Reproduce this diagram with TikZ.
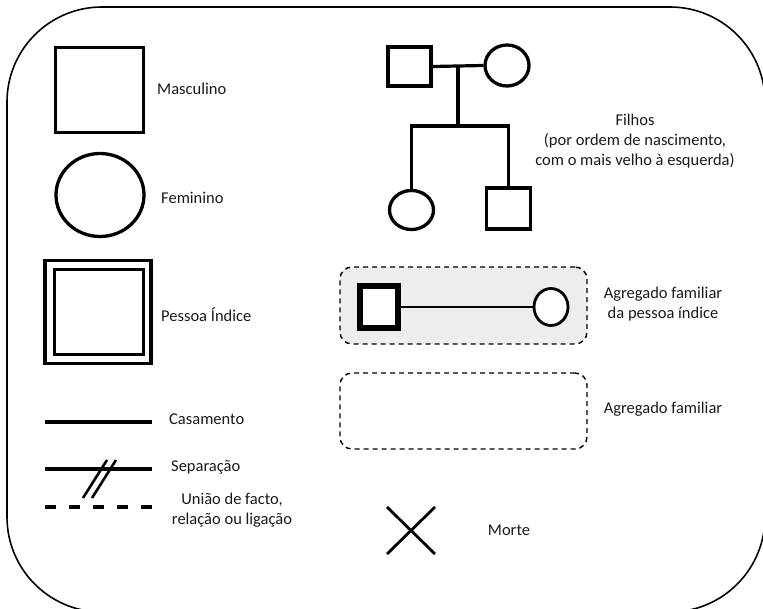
\documentclass[tikz,border=0pt]{standalone}
\usepackage{fontspec}
\setmainfont{Carlito}
\usetikzlibrary{shapes.geometric}
\begin{document}
\begin{tikzpicture}[x=1pt,y=-1pt,
  lbl/.style={font=\fontsize{16.5}{20}\selectfont, align=center, text=black!90, inner sep=0pt},
  sq/.style={draw, rectangle, line width=3.3pt, inner sep=0pt, fill=white},
  circ/.style={draw, ellipse, line width=3.3pt, inner sep=0pt, fill=white},
  link/.style={line width=3.2pt},
  grp/.style={draw, dashed, dash pattern=on 5pt off 4pt, line width=1.4pt, rounded corners=12pt}
]
\useasboundingbox (0,0) rectangle (763,609);
\begin{scope}
\clip (0,0) rectangle (763,609);
\draw[line width=1.6pt, rounded corners=95pt] (7,7) rectangle (765,612);
\end{scope}

% Masculino
\node[sq, minimum width=88pt, minimum height=85pt] (masc) at (99.5,90) {};
\node[lbl, anchor=west] (mascl) at (157,89) {Masculino};

% Feminino
\node[circ, minimum width=88pt, minimum height=83pt] (fem) at (100,195) {};
\node[lbl, anchor=west] (feml) at (161,198) {Feminino};

% Pessoa Indice
\node[sq, minimum width=106pt, minimum height=103pt] (pio) at (98,312) {};
\node[sq, minimum width=89pt, minimum height=85pt] (pii) at (99,312) {};
\node[lbl, anchor=west] (pil) at (161,315) {Pessoa Índice};

% Casamento
\coordinate (c1) at (45,422);
\coordinate (c2) at (152,422);
\draw[link] (c1) -- (c2);
\node[lbl, anchor=west] (casl) at (169,419) {Casamento};

% Separacao
\coordinate (s1) at (45,469);
\coordinate (s2) at (152,469);
\draw[link] (s1) -- (s2);
\coordinate (sa1) at (83,498);
\coordinate (sa2) at (107,460);
\coordinate (sb1) at (92,498);
\coordinate (sb2) at (116,460);
\draw[line width=2.6pt] (sa1) -- (sa2);
\draw[line width=2.6pt] (sb1) -- (sb2);
\node[lbl, anchor=west] (sepl) at (171,467) {Separação};

% Uniao de facto
\coordinate (u1) at (45,507);
\coordinate (u2) at (152,507);
\draw[line width=3.6pt, dash pattern=on 11pt off 13pt] (u1) -- (u2);
\node[lbl] (unil) at (232,510) {União de facto,\\relação ou ligação};

% Pedigree
\node[sq, minimum width=43pt, minimum height=39pt] (pai) at (409.5,66.5) {};
\node[circ, minimum width=44pt, minimum height=41pt] (mae) at (507,65.5) {};
\node[circ, minimum width=44pt, minimum height=39pt] (filha) at (411.5,210) {};
\node[sq, minimum width=44pt, minimum height=41pt] (filho) at (508.5,208.5) {};
\coordinate (mid) at (458,66);
\coordinate (sib) at (458,126);
\coordinate (sibl) at (411.5,126);
\coordinate (sibr) at (508.5,126);
\draw[link] (pai.east) -- (mae.west);
\draw[link] (mid) -- (sib);
\draw[link, line cap=rect] (sibl) -- (sibr);
\draw[link] (sibl) -- (filha.north);
\draw[link] (sibr) -- (filho.north);
\node[lbl] (filhosl) at (635,141) {Filhos\\(por ordem de nascimento,\\com o mais velho à esquerda)};

% Agregado familiar da pessoa indice
\node[grp, fill=black!7, minimum width=247pt, minimum height=77pt] (agpi) at (463.5,305.5) {};
\node[draw, rectangle, line width=6pt, inner sep=0pt, fill=white, minimum width=38pt, minimum height=42pt] (pisq) at (379,307) {};
\node[circ, line width=2.8pt, minimum width=34pt, minimum height=37pt] (picirc) at (551,307) {};
\draw[line width=2.4pt] (pisq.east) -- (picirc.west);
\node[lbl] (agpil) at (663,304) {Agregado familiar\\da pessoa índice};

% Agregado familiar
\node[grp, minimum width=247pt, minimum height=76pt] (ag) at (463.5,411) {};
\node[lbl] (agl) at (663,409) {Agregado familiar};

% Morte
\coordinate (x1) at (387,507);
\coordinate (x2) at (435,554);
\coordinate (x3) at (435,507);
\coordinate (x4) at (387,554);
\draw[line width=2.8pt] (x1) -- (x2);
\draw[line width=2.8pt] (x3) -- (x4);
\node[lbl] (mortel) at (509,530) {Morte};
\end{tikzpicture}
\end{document}
